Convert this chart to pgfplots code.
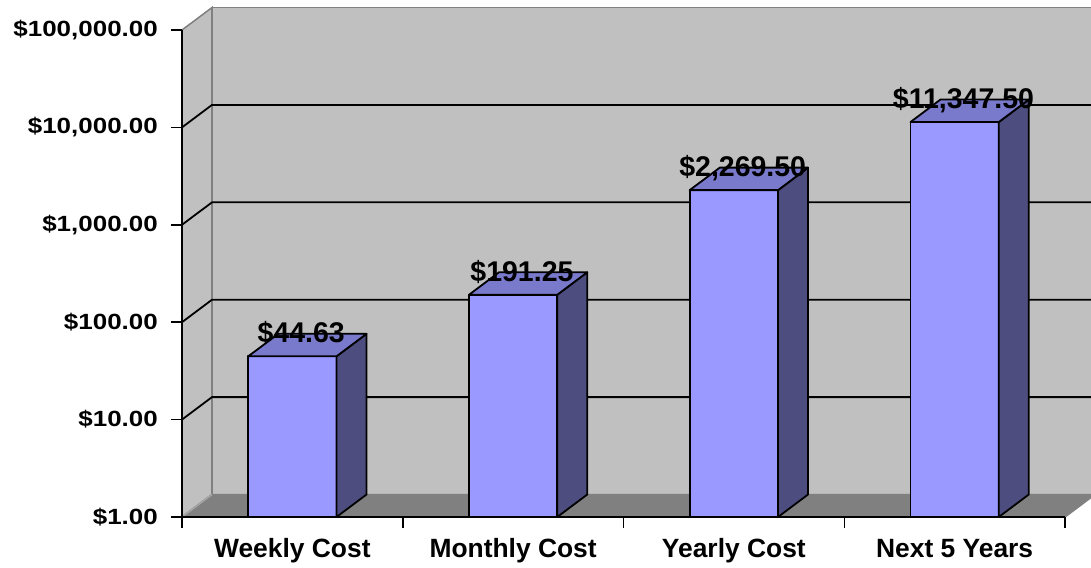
\documentclass[border=0pt]{standalone}
\usepackage{fontspec}
\setmainfont{Liberation Sans}
\usepackage{graphicx}
\usepackage{pgfplots}
\usepackage{pgfplotstable}
\pgfplotsset{compat=1.18}
\definecolor{wallc}{RGB}{192,192,192}
\definecolor{floorc}{RGB}{128,128,128}
\definecolor{edgec}{RGB}{128,128,128}
\definecolor{edgel}{RGB}{165,165,165}
\definecolor{barfront}{RGB}{153,153,255}
\definecolor{bartop}{RGB}{122,122,204}
\definecolor{barside}{RGB}{77,77,128}
\newcommand\tl[1]{\scalebox{1.18}[1]{#1}}

\pgfplotstableread{
x v
0.5 44.63
1.5 191.25
2.5 2269.5
3.5 11347.5
}\costs

\begin{document}
\begin{tikzpicture}
\useasboundingbox (0,0) rectangle (1091pt,567pt);
\begin{axis}[
  at={(182pt,50pt)}, anchor=south west,
  scale only axis, width=883pt, height=487pt,
  xmin=0, xmax=4, ymin=1, ymax=100000, ymode=log,
  clip=false, axis on top,
  axis x line*=bottom, axis y line*=left,
  axis line style={line width=1.5pt, -},
  tick align=outside, major tick length=11pt,
  tick style={black, line width=1.5pt},
  yminorticks=false, minor y tick style={draw=none},
  xtick={0,1,2,3,4}, xticklabels={},
  extra x ticks={0.5,1.5,2.5,3.5},
  extra x tick labels={Weekly Cost, Monthly Cost, Yearly Cost, Next 5 Years},
  extra x tick style={major tick length=0pt,
    tick label style={font=\fontsize{26.4}{30}\selectfont\bfseries, anchor=base, yshift=-40pt}},
  ytick={1,10,100,1000,10000,100000},
  yticklabels={{\tl{\$1.00}},{\tl{\$10.00}},{\tl{\$100.00}},{\tl{\$1,000.00}},{\tl{\$10,000.00}},{\tl{\$100,000.00}}},
  yticklabel style={font=\fontsize{22}{26}\selectfont\bfseries, anchor=east, inner sep=0pt, xshift=-13pt},
  /pgf/number format/assume math mode=true,
]
% walls and floor
\addplot[fill=wallc, draw=edgec, line width=1.5pt] coordinates {(0,1) (0.136,1.702) (0.136,170200) (0,100000)} -- cycle;
\addplot[fill=wallc, draw=edgec, line width=1.5pt] coordinates {(0.136,1.702) (4.136,1.702) (4.136,170200) (0.136,170200)} -- cycle;
\addplot[fill=floorc, draw=edgec, line width=1.5pt] coordinates {(0,1) (4,1) (4.136,1.702) (0.136,1.702)} -- cycle;
\addplot[edgel, line width=1.5pt] coordinates {(0,1) (0.136,1.702)};
% gridlines
\addplot[black, line width=1.8pt] coordinates {(0,10) (0.136,17.02) (4.136,17.02)};
\addplot[black, line width=1.8pt] coordinates {(0,100) (0.136,170.2) (4.136,170.2)};
\addplot[black, line width=1.8pt] coordinates {(0,1000) (0.136,1702) (4.136,1702)};
\addplot[black, line width=1.8pt] coordinates {(0,10000) (0.136,17020) (4.136,17020)};
% bars
\pgfplotsinvokeforeach{0,1,2,3}{
  \pgfplotstablegetelem{#1}{x}\of\costs \let\cx\pgfplotsretval
  \pgfplotstablegetelem{#1}{v}\of\costs \let\cv\pgfplotsretval
  \pgfmathsetmacro\xa{\cx-0.2}
  \pgfmathsetmacro\xb{\cx+0.2}
  \pgfmathsetmacro\xc{\cx+0.2+0.136}
  \pgfmathsetmacro\xd{\cx-0.2+0.136}
  \begingroup\pgfkeys{/pgf/fpu=true,/pgf/fpu/output format=fixed}\pgfmathparse{\cv*1.702}\xdef\vk{\pgfmathresult}\endgroup
  \addplot[fill=barfront, draw=black, line width=1.8pt, line join=round] coordinates {(\xa,1) (\xb,1) (\xb,\cv) (\xa,\cv)} -- cycle;
  \addplot[fill=barside, draw=black, line width=1.8pt, line join=round] coordinates {(\xb,1) (\xc,1.702) (\xc,\vk) (\xb,\cv)} -- cycle;
  \addplot[fill=bartop, draw=black, line width=1.8pt, line join=round] coordinates {(\xa,\cv) (\xb,\cv) (\xc,\vk) (\xd,\vk)} -- cycle;
}
% data labels
\addplot[draw=none, point meta=explicit,
  nodes near coords={\$\pgfmathprintnumber[fixed,fixed zerofill,precision=2,1000 sep={,}]{\pgfplotspointmeta}},
  every node near coord/.style={anchor=base, yshift=-9pt, inner sep=0pt, text=black, font=\fontsize{28.5}{32}\selectfont\bfseries}]
  table[x expr=\thisrow{x}+0.04, y expr=\thisrow{v}*1.702, meta=v]{\costs};
\end{axis}
\end{tikzpicture}
\end{document}
